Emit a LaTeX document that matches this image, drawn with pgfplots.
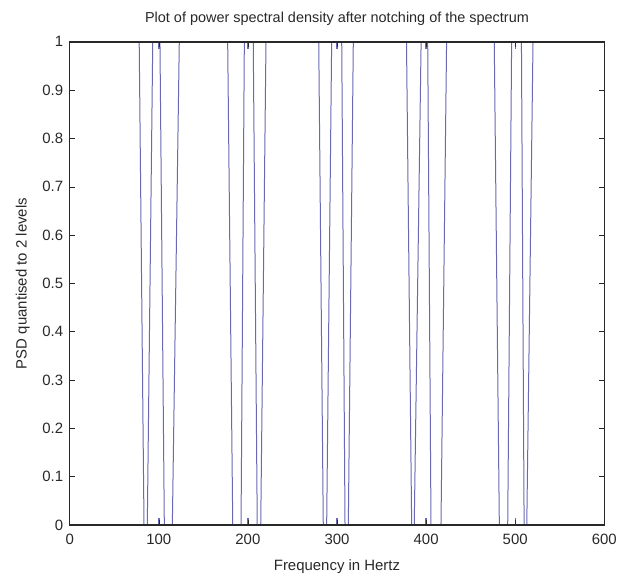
\documentclass[border=0pt]{standalone}
\usepackage{fontspec}
\setmainfont{Liberation Sans}
\usepackage{pgfplots}
\pgfplotsset{compat=1.18}
\definecolor{psd}{RGB}{105,105,180}
\definecolor{axgray}{RGB}{40,40,40}
\begin{document}
\begin{tikzpicture}
\path[use as bounding box] (0bp,0bp) rectangle (629bp,578bp);
\begin{axis}[
  at={(69.7bp,53bp)}, anchor=south west,
  scale only axis, width=534.6bp, height=483bp,
  xmin=0, xmax=600, ymin=0, ymax=1,
  xtick={0,100,200,300,400,500,600},
  ytick={0,0.1,0.2,0.3,0.4,0.5,0.6,0.7,0.8,0.9,1},
  yticklabels={0,0.1,0.2,0.3,0.4,0.5,0.6,0.7,0.8,0.9,1},
  xticklabels={0,100,200,300,400,500,600},
  tick align=inside, major tick length=5bp,
  axis on top,
  axis line style={axgray, line width=1.1bp},
  tick style={axgray, line width=0.6bp},
  ticklabel style={font=\fontsize{15}{17}\selectfont, text=axgray},
  xticklabel style={anchor=base, yshift=-19bp},
  yticklabel style={anchor=base east, xshift=-3bp, yshift=-5bp},
  title={Plot of power spectral density after notching of the spectrum},
  title style={font=\fontsize{14.5}{17}\selectfont, text=axgray, at={(0.5,1)}, anchor=base, yshift=14bp},
  xlabel={Frequency in Hertz},
  ylabel={PSD quantised to 2 levels},
  xlabel style={font=\fontsize{15}{17}\selectfont, text=axgray, at={(0.5,0)}, anchor=base, yshift=-45bp},
  ylabel style={font=\fontsize{15}{17}\selectfont, text=axgray, at={(0,0.5)}, anchor=base, yshift=43bp},
  unbounded coords=jump,
]
\addplot[psd, line width=1bp] coordinates {
(0,1)
(78,1) (83.4,0) (87.1,0) (93.2,1) (101.3,1) (106.2,0) (115.2,0) (123,1)
(177.3,1) (183,0) (192.3,0) (196,1) (206,1) (210.5,0) (214.4,0) (220.3,1)
(279.5,1) (284.6,0) (288.4,0) (294,1) (305.3,1) (309,0) (312.7,0) (318.3,1)
(378,1) (383.8,0) (386.7,0) (394.4,1) (401.8,1) (405.5,0) (416.7,0) (423,1)
(476.5,1) (482.2,0) (491.6,0) (496,1) (507,1) (510,0) (513,0) (520,1)
(600,1)
};
\addplot[psd, line width=1.4bp] coordinates {
(100,0) (100,0.015) (nan,nan) (100,1) (100,0.985) (nan,nan)
(200,0) (200,0.015) (nan,nan) (200,1) (200,0.985) (nan,nan)
(300,0) (300,0.015) (nan,nan) (300,1) (300,0.985) (nan,nan)
(400,0) (400,0.015) (nan,nan) (400,1) (400,0.985) (nan,nan)
(500,0) (500,0.015) (nan,nan) (500,1) (500,0.985)
};
\end{axis}
\end{tikzpicture}
\end{document}
